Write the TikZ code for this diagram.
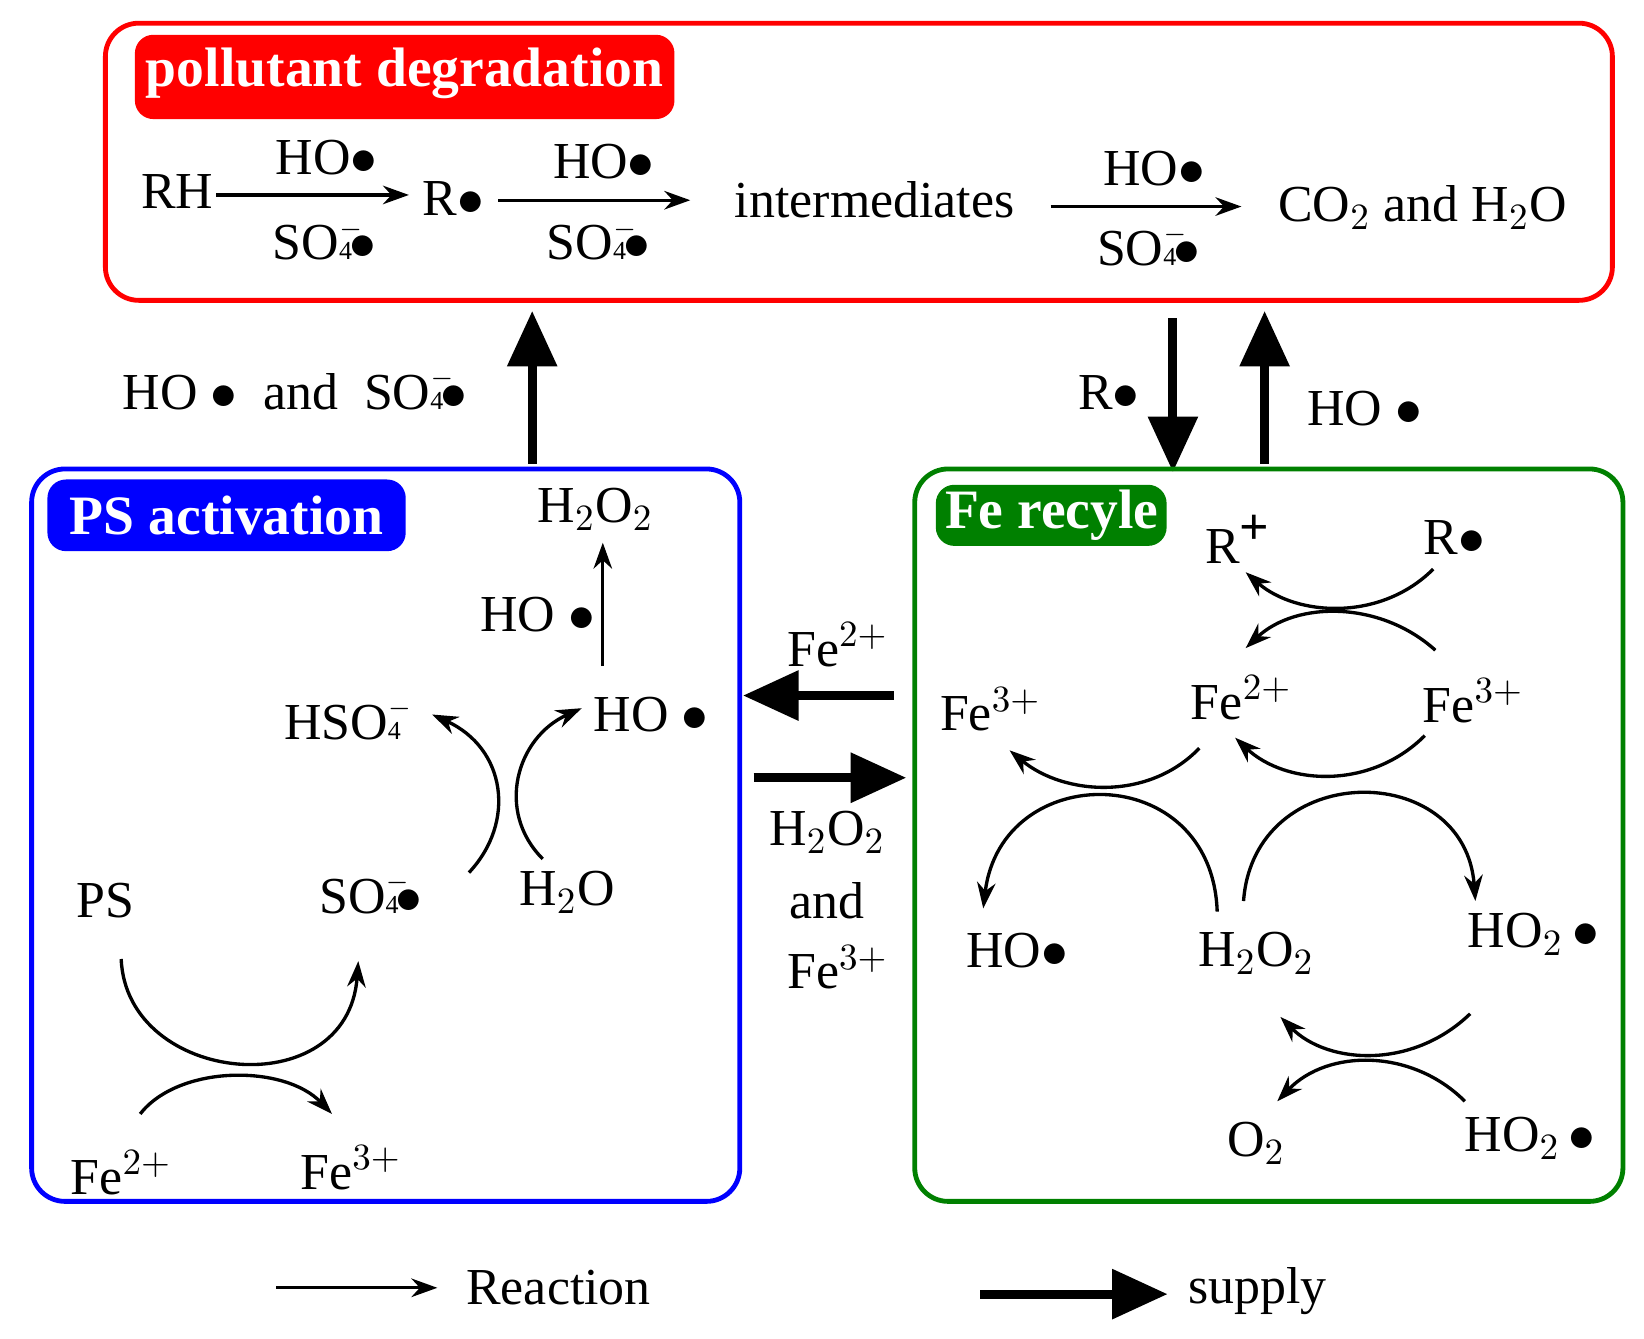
\documentclass[tikz,border=0pt]{standalone}
\usepackage{fontspec}
\setmainfont{Liberation Serif}
\usetikzlibrary{arrows.meta}
\newcommand{\sofr}{SO\makebox[0pt][l]{\raisebox{1.0ex}{\scriptsize$-$}}{\scriptsize 4}\kern-0.05em$\bullet$}
\begin{document}
\begin{tikzpicture}[x=0.01cm,y=-0.01cm,
 t/.style={font=\fontsize{14}{16}\selectfont,inner sep=0pt},
 hd/.style={font=\fontsize{15}{17}\selectfont\bfseries,text=white,inner sep=0pt},
 rx/.style={line width=0.9pt,-{Stealth[length=7pt,width=5pt]}},
 sp/.style={line width=2.4pt,-{Triangle[length=15pt,width=13pt]}},
 box/.style={line width=1.3pt,rounded corners=9pt}]
\useasboundingbox (0,0) rectangle (1560,1270);
% red box
\draw[box,red] (100,22) rectangle (1530,285);
\fill[red,rounded corners=5pt] (128,33) rectangle (640,113);
\node[hd] (h1) at (384,70) {pollutant degradation};
\node[t] (rh) at (168,182) {RH};
\coordinate (a1s) at (205,185); \coordinate (a1e) at (388,185);
\draw[rx] (a1s)--(a1e);
\node[t] (a1u) at (310,150) {HO$\bullet$};
\node[t] (a1d) at (308,228) {\sofr};
\node[t] (r1) at (430,188) {R$\bullet$};
\coordinate (a2s) at (473,190); \coordinate (a2e) at (655,190);
\draw[rx] (a2s)--(a2e);
\node[t] (a2u) at (573,153) {HO$\bullet$};
\node[t] (a2d) at (568,228) {\sofr};
\node[t] (int) at (830,190) {intermediates};
\coordinate (a3s) at (997,196); \coordinate (a3e) at (1178,196);
\draw[rx] (a3s)--(a3e);
\node[t] (a3u) at (1095,160) {HO$\bullet$};
\node[t] (a3d) at (1090,233) {\sofr};
\node[t] (co2) at (1350,197) {CO$_2$ and H$_2$O};
% supply arrows top
\coordinate (u1s) at (505,440); \coordinate (u1e) at (505,295);
\draw[sp] (u1s)--(u1e);
\node[t] (l1) at (280,370) {HO $\bullet$\ \ and\ \ \sofr};
\coordinate (d1s) at (1113,302); \coordinate (d1e) at (1113,448);
\draw[sp] (d1s)--(d1e);
\node[t] (l2) at (1052,372) {R$\bullet$};
\coordinate (u2s) at (1200,440); \coordinate (u2e) at (1200,295);
\draw[sp] (u2s)--(u2e);
\node[t] (l3) at (1295,388) {HO $\bullet$};
% blue box
\draw[box,blue] (30,445) rectangle (702,1140);
\fill[blue,rounded corners=5pt] (45,455) rectangle (385,523);
\node[hd] (h2) at (215,489) {PS activation};
\node[t] (bh2o2) at (565,483) {H$_2$O$_2$};
\coordinate (b1s) at (572,632); \coordinate (b1e) at (572,515);
\draw[rx] (b1s)--(b1e);
\node[t] (bho1) at (510,583) {HO $\bullet$};
\node[t] (bho2) at (618,678) {HO $\bullet$};
\node[t] (bhso) at (325,683) {HSO\makebox[0pt][l]{\raisebox{1.0ex}{\scriptsize$-$}}{\scriptsize 4}};
\node[t] (bso) at (352,848) {\sofr};
\node[t] (bh2o) at (538,847) {H$_2$O};
\node[t] (ps) at (100,855) {PS};
\node[t] (bfe2) at (115,1113) {Fe$^{2+}$};
\node[t] (bfe3) at (333,1108) {Fe$^{3+}$};
\draw[rx] (445,828) .. controls (490,780) and (480,710) .. (410,678);
\draw[rx] (515,815) .. controls (470,770) and (490,700) .. (552,672);
\draw[rx] (115,910) .. controls (120,1030) and (330,1050) .. (340,912);
\draw[rx] (133,1057) .. controls (170,1010) and (270,1010) .. (315,1057);
% middle supply
\coordinate (m1s) at (848,660); \coordinate (m1e) at (705,660);
\draw[sp] (m1s)--(m1e);
\coordinate (m2s) at (715,738); \coordinate (m2e) at (860,738);
\draw[sp] (m2s)--(m2e);
\node[t] (mfe2) at (795,612) {Fe$^{2+}$};
\node[t] (mh) at (785,790) {H$_2$O$_2$};
\node[t] (mand) at (785,855) {and};
\node[t] (mfe3) at (795,918) {Fe$^{3+}$};
% green box
\draw[box,green!50!black] (868,445) rectangle (1540,1140);
\fill[green!50!black,rounded corners=5pt] (888,460) rectangle (1107,518);
\node[hd] (h3) at (998,489) {Fe recyle};
\node[t] (rp) at (1175,512) {R$^{\textbf{+}}$};
\node[t] (gr) at (1380,510) {R$\bullet$};
\node[t] (gfe3l) at (940,673) {Fe$^{3+}$};
\node[t] (gfe2) at (1178,662) {Fe$^{2+}$};
\node[t] (gfe3r) at (1398,665) {Fe$^{3+}$};
\node[t] (gho) at (965,902) {HO$\bullet$};
\node[t] (gh2o2) at (1192,905) {H$_2$O$_2$};
\node[t] (gho2a) at (1455,887) {HO$_2\,\bullet$};
\node[t] (go2) at (1192,1085) {O$_2$};
\node[t] (gho2b) at (1452,1080) {HO$_2\,\bullet$};
\draw[rx] (1360,540) .. controls (1310,590) and (1230,585) .. (1182,543);
\draw[rx] (1362,617) .. controls (1310,570) and (1230,570) .. (1182,615);
\draw[rx] (1138,710) .. controls (1090,760) and (1010,755) .. (958,712);
\draw[rx] (1352,698) .. controls (1300,750) and (1220,745) .. (1172,700);
\draw[rx] (1155,865) .. controls (1150,720) and (950,720) .. (933,862);
\draw[rx] (1180,855) .. controls (1190,720) and (1390,720) .. (1400,855);
\draw[rx] (1395,962) .. controls (1340,1015) and (1260,1010) .. (1215,965);
\draw[rx] (1390,1045) .. controls (1340,995) and (1260,995) .. (1212,1045);
% legend
\coordinate (lg1s) at (262,1222); \coordinate (lg1e) at (415,1222);
\draw[rx] (lg1s)--(lg1e);
\node[t] (lgr) at (530,1222) {Reaction};
\coordinate (lg2s) at (930,1228); \coordinate (lg2e) at (1108,1228);
\draw[sp] (lg2s)--(lg2e);
\node[t] (lgs) at (1193,1225) {supply};
\end{tikzpicture}
\end{document}
